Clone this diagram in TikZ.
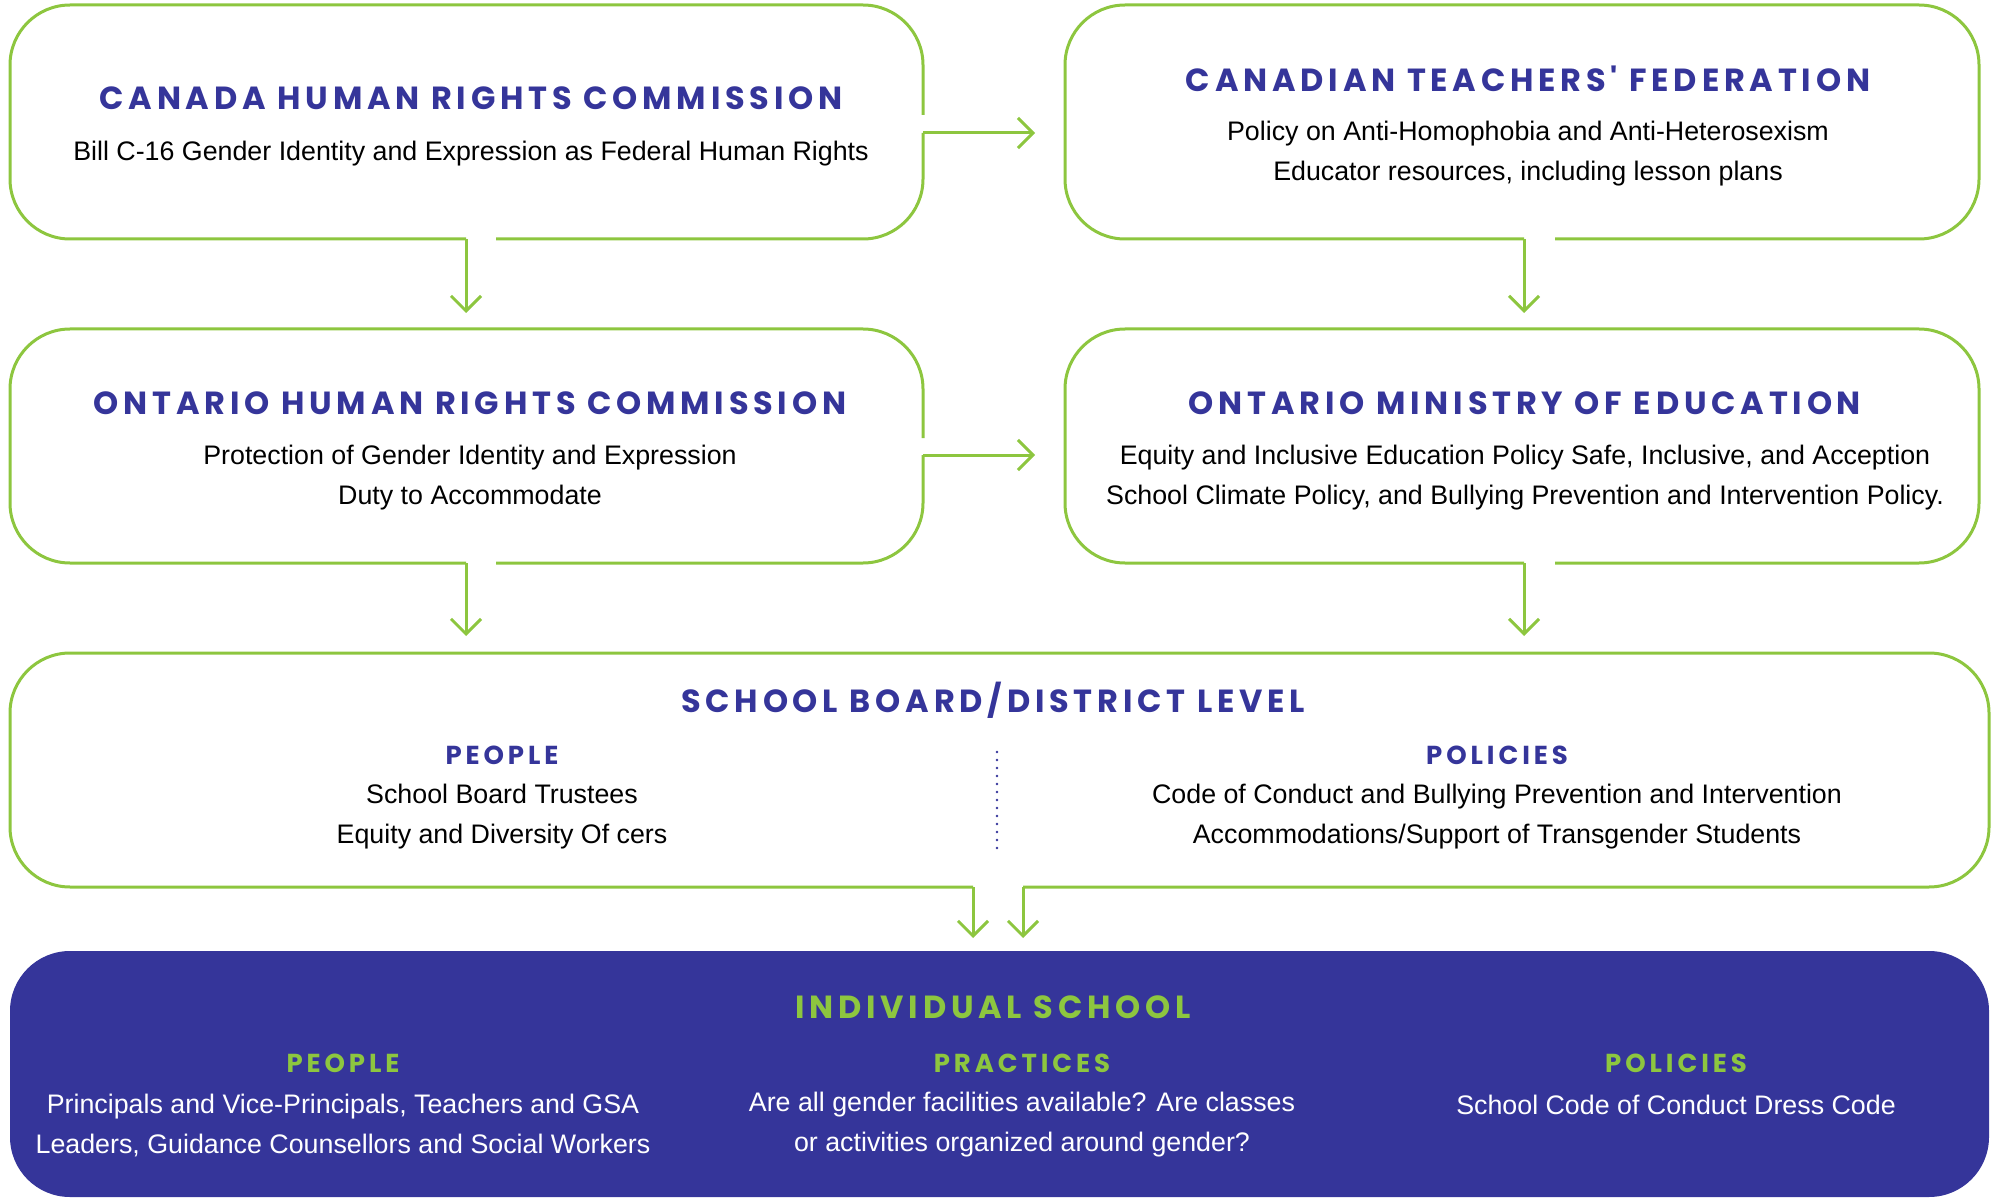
\documentclass[tikz,border=0pt]{standalone}
\usepackage{fontspec}
\setmainfont{Liberation Sans}
\newfontfamily\headfont[LetterSpace=15]{Poppins}
\usepackage{tikz}
\usetikzlibrary{arrows.meta}
\definecolor{leafgreen}{HTML}{8DC63F}
\definecolor{inkblue}{HTML}{35359A}
\tikzstyle{frame}=[draw=leafgreen, line width=1.5pt, rounded corners=30pt]
\tikzstyle{link}=[draw=leafgreen, line width=1.5pt, -{Straight Barb[length=7.5pt,width=15pt]}]
\tikzstyle{head}=[text=inkblue, font=\headfont\bfseries\fontsize{16}{20}\selectfont, inner sep=0pt]
\tikzstyle{sub}=[text=inkblue, font=\headfont\bfseries\fontsize{13}{16}\selectfont, inner sep=0pt]
\tikzstyle{body}=[font=\fontsize{13.4}{20}\selectfont, align=center, inner sep=0pt]

\begin{document}
\begin{tikzpicture}[x=0.5pt,y=-0.5pt]
\useasboundingbox (0,0) rectangle (1993,1198);
% outlines
\fill[inkblue, rounded corners=30pt] (10,951) rectangle (1989,1197);
\draw[frame] (923,115) -- (923,5) -- (10,5) -- (10,239) -- (466,239);
\draw[frame] (496,239) -- (923,239) -- (923,133);
\draw[frame] (1555,239) -- (1979,239) -- (1979,5) -- (1065,5) -- (1065,239) -- (1524,239);
\draw[frame] (923,438) -- (923,329) -- (10,329) -- (10,563) -- (466,563);
\draw[frame] (496,563) -- (923,563) -- (923,455);
\draw[frame] (1555,563) -- (1979,563) -- (1979,329) -- (1065,329) -- (1065,563) -- (1524,563);
\draw[frame] (973,887) -- (10,887) -- (10,653) -- (1989,653) -- (1989,887) -- (1023,887);

\coordinate (b1r) at (923,133);
\coordinate (b2l) at (1035,133);
\coordinate (b1d) at (466,239);
\coordinate (b3u) at (466,313);
\coordinate (b2d) at (1524,239);
\coordinate (b4u) at (1524,313);
\coordinate (b3r) at (923,455);
\coordinate (b4l) at (1035,455);
\coordinate (b3d) at (466,563);
\coordinate (b5ul) at (466,636);
\coordinate (b4d) at (1524,563);
\coordinate (b5ur) at (1524,636);
\coordinate (b5dl) at (973,887);
\coordinate (b6ul) at (973,938);
\coordinate (b5dr) at (1023,887);
\coordinate (b6ur) at (1023,938);
\coordinate (sep1) at (997,752);
\coordinate (sep2) at (997,853);

% texts
\node[head] (h1) at (471,98) {CANADA HUMAN RIGHTS COMMISSION};
\node[body] (t1) at (471,154) {Bill C-16 Gender Identity and Expression as Federal Human Rights};
\node[head] (h2) at (1528,79) {CANADIAN TEACHERS' FEDERATION};
\node[body] (t2) at (1528,154) {Policy on Anti-Homophobia and Anti-Heterosexism\\Educator resources, including lesson plans};
\node[head] (h3) at (470,403) {ONTARIO HUMAN RIGHTS COMMISSION};
\node[body] (t3) at (470,478) {Protection of Gender Identity and Expression\\Duty to Accommodate};
\node[head] (h4) at (1525,403) {ONTARIO MINISTRY OF EDUCATION};
\node[body] (t4) at (1525,478) {Equity and Inclusive Education Policy Safe, Inclusive, and Acception\\School Climate Policy, and Bullying Prevention and Intervention Policy.};
\node[head] (h5) at (993,700) {SCHOOL BOARD/DISTRICT LEVEL};
\node[sub] (s5a) at (502,755) {PEOPLE};
\node[body] (t5a) at (502,817) {School Board Trustees\\Equity and Diversity Of cers};
\node[sub] (s5b) at (1497,755) {POLICIES};
\node[body] (t5b) at (1497,817) {Code of Conduct and Bullying Prevention and Intervention\\Accommodations/Support of Transgender Students};
\node[head, text=leafgreen] (h6) at (993,1007) {INDIVIDUAL SCHOOL};
\node[sub, text=leafgreen] (s6a) at (343,1063) {PEOPLE};
\node[body, text=white] (t6a) at (343,1125) {Principals and Vice-Principals, Teachers and GSA\\Leaders, Guidance Counsellors and Social Workers};
\node[sub, text=leafgreen] (s6b) at (1022,1063) {PRACTICES};
\node[body, text=white] (t6b) at (1022,1125) {Are all gender facilities available? Are classes\\or activities organized around gender?};
\node[sub, text=leafgreen] (s6c) at (1676,1063) {POLICIES};
\node[body, text=white] (t6c) at (1676,1105) {School Code of Conduct Dress Code};

% links
\draw[link] (b1r) -- (b2l);
\draw[link] (b1d) -- (b3u);
\draw[link] (b2d) -- (b4u);
\draw[link] (b3r) -- (b4l);
\draw[link] (b3d) -- (b5ul);
\draw[link] (b4d) -- (b5ur);
\draw[link] (b5dl) -- (b6ul);
\draw[link] (b5dr) -- (b6ur);
\draw[inkblue, line width=1.3pt, line cap=round, dash pattern=on 0pt off 4pt] (sep1) -- (sep2);
\end{tikzpicture}
\end{document}
